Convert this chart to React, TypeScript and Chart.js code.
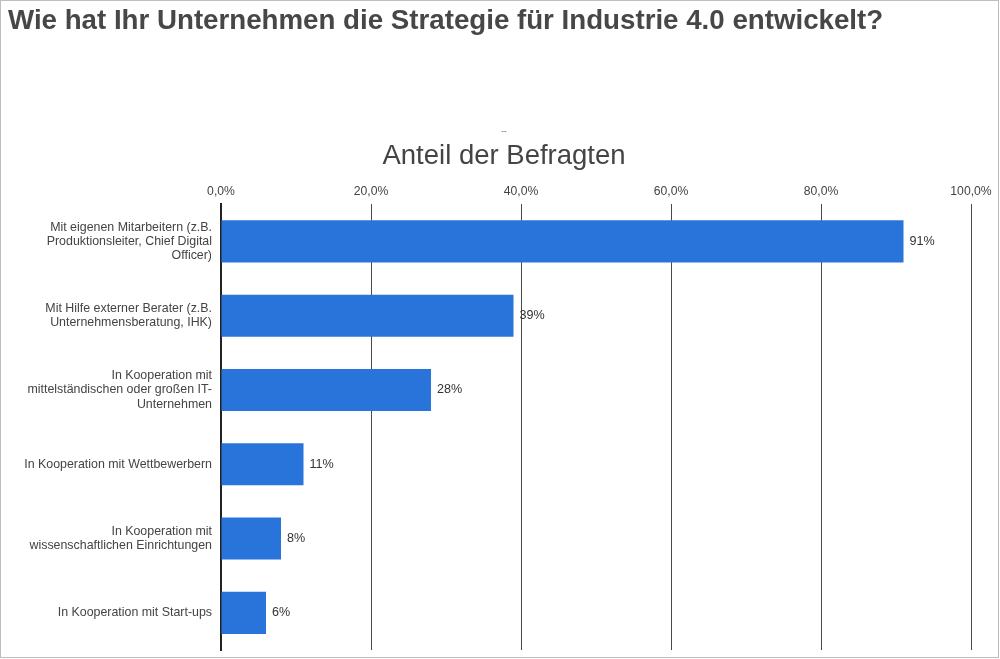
import React, { useEffect, useRef } from "react";
import { Chart, registerables } from "chart.js";

Chart.register(...registerables);

const pageTitle = "Wie hat Ihr Unternehmen die Strategie für Industrie 4.0 entwickelt?";
const chartTitle = "--";
const axisTitle = "Anteil der Befragten";

const categories: string[][] = [
  ["Mit eigenen Mitarbeitern (z.B.", "Produktionsleiter, Chief Digital", "Officer)"],
  ["Mit Hilfe externer Berater (z.B.", "Unternehmensberatung, IHK)"],
  ["In Kooperation mit", "mittelständischen oder großen IT-", "Unternehmen"],
  ["In Kooperation mit Wettbewerbern"],
  ["In Kooperation mit", "wissenschaftlichen Einrichtungen"],
  ["In Kooperation mit Start-ups"],
];

const values: number[] = [91, 39, 28, 11, 8, 6];

const tickValues: number[] = [0, 20, 40, 60, 80, 100];
const tickLabels: string[] = ["0,0%", "20,0%", "40,0%", "60,0%", "80,0%", "100,0%"];

const FONT = "'Liberation Sans', Arial, Helvetica, sans-serif";

const valueLabelPlugin = {
  id: "valueLabels",
  afterDatasetsDraw(chart: any) {
    const ctx = chart.ctx;
    const meta = chart.getDatasetMeta(0);
    ctx.save();
    ctx.font = `12.6px ${FONT}`;
    ctx.fillStyle = "#333333";
    ctx.textAlign = "left";
    ctx.textBaseline = "middle";
    meta.data.forEach((el: any, i: number) => {
      ctx.fillText(`${values[i]}%`, el.x + 6, el.y);
    });
    ctx.restore();
  },
};

export default function App() {
  const canvasRef = useRef<HTMLCanvasElement | null>(null);

  useEffect(() => {
    if (!canvasRef.current) return;
    const chart = new Chart(canvasRef.current, {
      type: "bar",
      data: {
        labels: categories,
        datasets: [
          {
            data: values,
            backgroundColor: "rgb(40,116,218)",
            borderWidth: 0,
            categoryPercentage: 1,
            barPercentage: 0.566,
            yAxisID: "y",
          },
        ],
      },
      options: {
        indexAxis: "y",
        animation: false,
        responsive: false,
        maintainAspectRatio: false,
        layout: { padding: { top: 0, left: 8, right: 0, bottom: 9 } },
        plugins: {
          legend: { display: false },
          tooltip: { enabled: false },
          title: {
            display: true,
            text: chartTitle,
            color: "#444444",
            font: { family: FONT, size: 8, weight: "normal" },
            padding: { top: 126, bottom: 4 },
          },
          subtitle: {
            display: true,
            text: axisTitle,
            color: "#444444",
            font: { family: FONT, size: 27.5, weight: "normal" },
            padding: { top: 0, bottom: 7 },
          },
        },
        scales: {
          x: {
            position: "top",
            min: 0,
            max: 100,
            afterBuildTicks: (scale: any) => {
              scale.ticks = tickValues.map((v) => ({ value: v }));
            },
            ticks: {
              padding: 5,
              color: "#444444",
              font: { family: FONT, size: 12.2 },
              callback: (_v: any, i: number) => tickLabels[i],
            },
            grid: {
              display: true,
              drawTicks: false,
              color: "#4a4a4a",
              lineWidth: 1,
            },
            border: { display: false },
          },
          y: {
            position: "left",
            afterFit: (scale: any) => {
              scale.width = 213;
              scale.paddingTop = 0;
              scale.paddingBottom = 0;
            },
            ticks: {
              padding: 9,
              color: "#444444",
              font: { family: FONT, size: 12.4, lineHeight: 1.15 },
            },
            grid: { display: false, drawTicks: false },
            border: { display: true, color: "#222222", width: 2 },
          },
          yRight: {
            type: "category",
            position: "right",
            display: true,
            afterFit: (scale: any) => {
              scale.width = 29;
              scale.paddingTop = 0;
              scale.paddingBottom = 0;
            },
            ticks: { display: false },
            grid: { display: false, drawTicks: false },
            border: { display: false },
          },
        },
      },
      plugins: [valueLabelPlugin],
    } as any);
    return () => chart.destroy();
  }, []);

  return (
    <div style={{ position: "absolute", left: 0, top: 0, width: 1000, height: 659, background: "#ffffff", overflow: "hidden" }}>
      <div
        style={{
          position: "absolute",
          left: 0,
          top: 0,
          width: 999,
          height: 658,
          boxSizing: "border-box",
          border: "1px solid #bdbdbd",
        }}
      />
      <canvas
        ref={canvasRef}
        width={1000}
        height={659}
        style={{ position: "absolute", left: 0, top: 0, width: 1000, height: 659, display: "block" }}
      />
      <div
        style={{
          position: "absolute",
          left: 8,
          top: 4,
          fontFamily: FONT,
          fontSize: 27.7,
          fontWeight: "bold",
          lineHeight: "32px",
          color: "#474747",
          whiteSpace: "nowrap",
        }}
      >
        {pageTitle}
      </div>
    </div>
  );
}
